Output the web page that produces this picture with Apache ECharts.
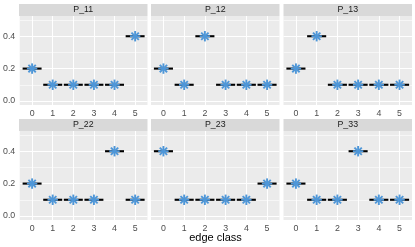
<!DOCTYPE html>
<html>
<head>
<meta charset="utf-8">
<script src="https://cdn.jsdelivr.net/npm/echarts@6/dist/echarts.min.js"></script>
<style>
html,body{margin:0;padding:0;background:#ffffff;}
#chart{width:415px;height:247px;}
</style>
</head>
<body>
<div id="chart"></div>
<script>
// ---- data ----
var edgeClasses = [0, 1, 2, 3, 4, 5];
var panelNames = ['P_11', 'P_12', 'P_13', 'P_22', 'P_23', 'P_33'];
var P_11 = [0.2, 0.1, 0.1, 0.1, 0.1, 0.4];
var P_12 = [0.2, 0.1, 0.4, 0.1, 0.1, 0.1];
var P_13 = [0.2, 0.4, 0.1, 0.1, 0.1, 0.1];
var P_22 = [0.2, 0.1, 0.1, 0.1, 0.4, 0.1];
var P_23 = [0.4, 0.1, 0.1, 0.1, 0.1, 0.2];
var P_33 = [0.2, 0.1, 0.1, 0.4, 0.1, 0.1];
var yMajorTicks = [0, 0.2, 0.4];
var yMinorTicks = [0.1, 0.3, 0.5];
var xTitle = 'edge class';

var panelValues = [P_11, P_12, P_13, P_22, P_23, P_33];

// ---- layout ----
var colLeft = [19, 151, 283.5];
var panelW = 128.5;
var rowTop = [16, 131];
var panelH = 89;
var stripH = 12;
var FONT = 'Liberation Sans, Arial, sans-serif';
var HALF = 0.46;
var STAR_R = 5.2;
var STAR_COLOR = '#4f97d8';

var grids = [], xAxes = [], yAxes = [], series = [], graphics = [], titles = [];

panelNames.forEach(function (name, i) {
  var col = i % 3, row = Math.floor(i / 3);
  var left = colLeft[col], top = rowTop[row];
  grids.push({
    left: left, top: top, width: panelW, height: panelH,
    show: true, backgroundColor: '#ebebeb', borderWidth: 0
  });
  xAxes.push({
    gridIndex: i, type: 'value', min: -0.6, max: 5.6,
    axisLine: { show: false },
    axisTick: { show: true, customValues: edgeClasses, length: 2.7, lineStyle: { color: '#333333', width: 1 } },
    axisLabel: { show: true, customValues: edgeClasses, margin: 4.5, color: '#4d4d4d', fontSize: 8.8, fontFamily: FONT,
      hideOverlap: false,
      formatter: function (v) { return String(Math.round(v)); } },
    splitLine: { show: false }
  });
  yAxes.push({
    gridIndex: i, type: 'value', min: -0.025, max: 0.525,
    axisLine: { show: false },
    axisTick: { show: col === 0, customValues: yMajorTicks, length: 2.7, lineStyle: { color: '#333333', width: 1 } },
    axisLabel: { show: col === 0, customValues: yMajorTicks, margin: 4.5, color: '#4d4d4d', fontSize: 8.8, fontFamily: FONT,
      hideOverlap: false,
      formatter: function (v) { return (Math.round(v * 10) / 10).toFixed(1); } },
    splitLine: { show: false }
  });

  var data = edgeClasses.map(function (c, k) { return [c, panelValues[i][k]]; });

  // grid lines through markLine (drawn from the tick arrays)
  var lines = [];
  yMinorTicks.forEach(function (v) { lines.push({ yAxis: v, lineStyle: { color: '#ffffff', width: 0.55, type: 'solid' } }); });
  yMajorTicks.forEach(function (v) { lines.push({ yAxis: v, lineStyle: { color: '#ffffff', width: 1.1, type: 'solid' } }); });
  edgeClasses.forEach(function (v) { lines.push({ xAxis: v, lineStyle: { color: '#ffffff', width: 1.1, type: 'solid' } }); });
  series.push({
    type: 'scatter', xAxisIndex: i, yAxisIndex: i, data: [], z: 1, silent: true,
    markLine: {
      silent: true, symbol: ['none', 'none'], animation: false, z: 1,
      label: { show: false }, emphasis: { disabled: true },
      data: lines
    }
  });

  series.push({
    type: 'custom', xAxisIndex: i, yAxisIndex: i, data: data, z: 3,
    renderItem: function (params, api) {
      var x = api.value(0), y = api.value(1);
      var p0 = api.coord([x - HALF, y]);
      var p1 = api.coord([x + HALF, y]);
      return {
        type: 'line',
        shape: { x1: p0[0], y1: p0[1], x2: p1[0], y2: p1[1] },
        style: { stroke: '#000000', lineWidth: 2.1 }
      };
    }
  });
  series.push({
    type: 'custom', xAxisIndex: i, yAxisIndex: i, data: data, z: 4,
    renderItem: function (params, api) {
      var c = api.coord([api.value(0), api.value(1)]);
      var children = [];
      for (var a = 0; a < 4; a++) {
        var ang = a * Math.PI / 4;
        var dx = Math.cos(ang) * STAR_R, dy = Math.sin(ang) * STAR_R;
        children.push({
          type: 'line',
          shape: { x1: c[0] - dx, y1: c[1] - dy, x2: c[0] + dx, y2: c[1] + dy },
          style: { stroke: STAR_COLOR, lineWidth: 1.9 }
        });
      }
      return { type: 'group', children: children };
    }
  });

  graphics.push({
    type: 'rect', left: left, top: top - stripH, z: 0,
    shape: { width: panelW, height: stripH },
    style: { fill: '#d9d9d9' }
  });
  titles.push({
    text: name, left: left + panelW / 2, top: top - stripH / 2,
    textAlign: 'center', textVerticalAlign: 'middle', padding: 0,
    textStyle: { fontSize: 8.8, fontWeight: 'normal', color: '#1a1a1a', fontFamily: FONT }
  });
});

titles.push({
  text: xTitle, left: (colLeft[0] + colLeft[2] + panelW) / 2, top: 238,
  textAlign: 'center', textVerticalAlign: 'middle', padding: 0,
  textStyle: { fontSize: 11, fontWeight: 'normal', color: '#000000', fontFamily: FONT }
});

var chart = echarts.init(document.getElementById('chart'), null, { renderer: 'canvas' });
chart.setOption({
  animation: false,
  backgroundColor: '#ffffff',
  title: titles,
  grid: grids,
  xAxis: xAxes,
  yAxis: yAxes,
  graphic: graphics,
  series: series
});
</script>
</body>
</html>
